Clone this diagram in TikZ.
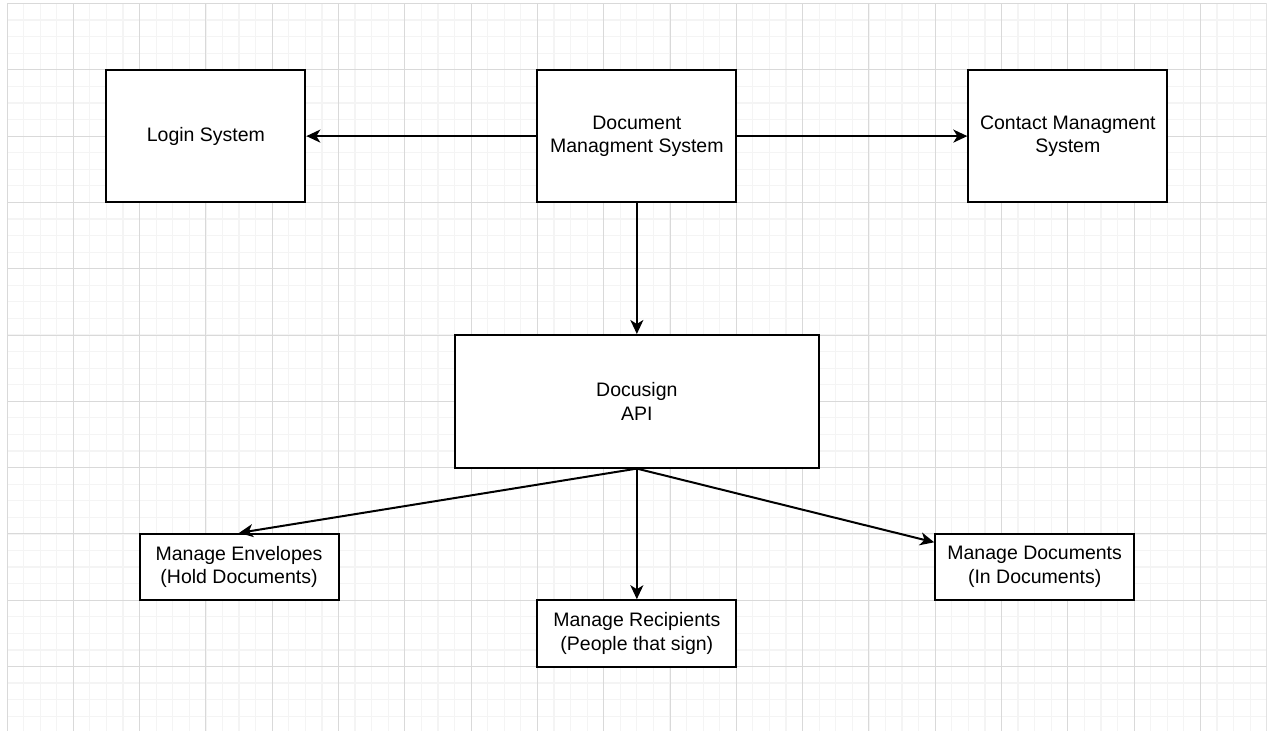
\documentclass[tikz,border=0pt]{standalone}
\usepackage{fontspec}
\setmainfont{Liberation Sans}
\usetikzlibrary{arrows.meta}
\begin{document}
\begin{tikzpicture}[
  box/.style={draw=black, line width=2pt, fill=white, inner sep=0pt, align=center, font=\fontsize{19.5}{23.5}\selectfont},
  conn/.style={line width=2pt, -{Stealth[length=14pt,width=13pt,inset=4pt]}},
  minorline/.style={draw=gray!9, line width=1.2pt},
  majorline/.style={draw=gray!30, line width=1pt}]
\def\U{16.575pt}
\path[use as bounding box, fill=white] (0,0) rectangle (1275pt,-731pt);
\begin{scope}[shift={(7pt,-3.5pt)}, x=16.575pt, y=-16.575pt]
  \begin{scope}
    \clip (0,0) rectangle (76,43.9);
    \foreach \i in {0,...,76} \draw[minorline] (\i,0) -- (\i,43.9);
    \foreach \j in {0,...,43} \draw[minorline] (0,\j) -- (76,\j);
    \foreach \i in {0,4,...,76} \draw[majorline] (\i,0) -- (\i,43.9);
    \foreach \j in {0,4,...,40} \draw[majorline] (0,\j) -- (76,\j);
  \end{scope}
  \node[box, minimum width=12*\U, minimum height=8*\U] (login) at (12,8) {Login System};
  \node[box, minimum width=12*\U, minimum height=8*\U] (dms) at (38,8) {Document\\Managment System};
  \node[box, minimum width=12*\U, minimum height=8*\U] (cms) at (64,8) {Contact Managment\\System};
  \node[box, minimum width=22*\U, minimum height=8*\U] (api) at (38,24) {Docusign\\API};
  \node[box, minimum width=12*\U, minimum height=4*\U] (env) at (14,34) {Manage Envelopes\\(Hold Documents)};
  \node[box, minimum width=12*\U, minimum height=4*\U] (rec) at (38,38) {Manage Recipients\\(People that sign)};
  \node[box, minimum width=12*\U, minimum height=4*\U] (docs) at (62,34) {Manage Documents\\(In Documents)};
  \draw[conn] (dms.west) -- (login.east);
  \draw[conn] (dms.east) -- (cms.west);
  \draw[conn] (dms.south) -- (api.north);
  \draw[conn] (api.south) -- (env.north);
  \draw[conn] (api.south) -- (rec.north);
  \draw[conn] (api.south) -- (docs);
\end{scope}
\end{tikzpicture}
\end{document}
